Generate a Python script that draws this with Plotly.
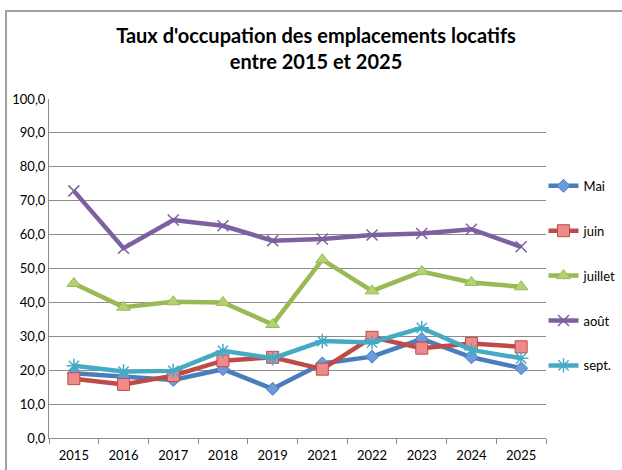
import plotly.graph_objects as go

annees = ["2015", "2016", "2017", "2018", "2019", "2021", "2022", "2023", "2024", "2025"]
mai = [19.1, 18.1, 17.1, 20.3, 14.5, 22.0, 24.0, 29.2, 23.8, 20.6]
juin = [17.5, 15.8, 18.4, 22.8, 23.8, 20.3, 29.7, 26.5, 27.9, 26.9]
juillet = [45.6, 38.6, 40.2, 40.0, 33.5, 52.6, 43.4, 49.1, 45.9, 44.6]
aout = [72.9, 56.0, 64.3, 62.6, 58.2, 58.7, 59.9, 60.3, 61.6, 56.4]
sept = [21.3, 19.6, 19.8, 25.7, 23.5, 28.6, 28.2, 32.5, 26.0, 23.5]

FONT = "Lato"

series = [
    ("Mai", mai, "#4A7EBB", dict(symbol="diamond", size=10, color="#6C9BDB", line=dict(color="#4A7EBB", width=1))),
    ("juin", juin, "#BE4B48", dict(symbol="square", size=12, color="#EE8A87", line=dict(color="#BE4B48", width=1))),
    ("juillet", juillet, "#98B954", dict(symbol="triangle-up", size=12, color="#B3D274", line=dict(color="#98B954", width=1))),
    ("août", aout, "#7D60A0", dict(symbol="x-thin", size=11, color="#7D60A0", line=dict(color="#7D60A0", width=1.5))),
    ("sept.", sept, "#46AAC5", dict(symbol="asterisk", size=12, color="#46AAC5", line=dict(color="#46AAC5", width=1.5))),
]

fig = go.Figure()
for nom, vals, couleur, marqueur in series:
    fig.add_trace(go.Scatter(
        x=annees, y=vals, name=nom, legendgroup=nom,
        mode="lines+markers",
        line=dict(color=couleur, width=4.5),
        marker=marqueur,
    ))

fig.update_layout(
    width=622, height=470,
    margin=dict(l=49, r=76, t=99, b=32, autoexpand=False),
    paper_bgcolor="white", plot_bgcolor="white",
    separators=", ",
    font=dict(family=FONT, size=12, color="black"),
    title=dict(
        text="<b>Taux d'occupation des emplacements locatifs<br>entre 2015 et 2025</b>",
        x=316 / 622, xanchor="center", y=1 - 43 / 470, yanchor="top",
        font=dict(family=FONT, size=20, color="black"),
    ),
    legend=dict(
        x=0.995, xanchor="left", y=0.788, yanchor="top",
        tracegroupgap=25, itemwidth=30,
        font=dict(family=FONT, size=13, color="black"),
        bgcolor="rgba(0,0,0,0)",
    ),
    showlegend=True,
    shapes=[dict(
        type="rect", xref="paper", yref="paper",
        x0=(6 - 49) / 497, x1=1.3, y0=-0.3, y1=(438 - 11) / 339,
        line=dict(color="#A0A0A0", width=2), fillcolor="rgba(0,0,0,0)", layer="below",
    )],
)

fig.update_xaxes(
    type="category", showgrid=False, automargin=False,
    showline=True, linecolor="#8C8C8C", linewidth=1,
    ticks="outside", tickson="boundaries", ticklen=5, tickcolor="#8C8C8C",
    ticklabelstandoff=5,
    tickfont=dict(family=FONT, size=13, color="black"),
    range=[-0.5, 9.5], mirror=False,
)
fig.update_yaxes(
    range=[0, 100], dtick=10, tickformat=".1f", automargin=False,
    showgrid=True, gridcolor="#8C8C8C", gridwidth=1,
    showline=True, linecolor="#8C8C8C", linewidth=1,
    ticks="",
    tickfont=dict(family=FONT, size=13, color="black"),
    zeroline=False,
)

# la page par défaut a une marge de 8 px autour du graphique
fig.write_html("out.html", config={"displayModeBar": False},
               post_script="document.body.style.margin='0';")
